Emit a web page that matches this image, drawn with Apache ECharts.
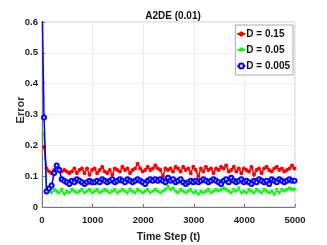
<!DOCTYPE html>
<html><head><meta charset="utf-8">
<script src="https://cdn.jsdelivr.net/npm/echarts@6/dist/echarts.min.js"></script>
<style>html,body{margin:0;padding:0;background:#fff}#c{width:327px;height:245px}</style>
</head><body><div id="c"></div>
<script>
const titleText = 'A2DE (0.01)';
const xAxisTitle = 'Time Step (t)';
const yAxisTitle = 'Error';
const yTicks = [0, 0.1, 0.2, 0.3, 0.4, 0.5, 0.6];
const seriesNames = ['D = 0.15', 'D = 0.05', 'D = 0.005'];
const timeSteps = [40,90,140,190,240,290,340,390,440,490,540,590,640,690,740,790,840,890,940,990,
1040,1090,1140,1190,1240,1290,1340,1390,1440,1490,1540,1590,1640,1690,1740,1790,1840,1890,1940,1990,
2040,2090,2140,2190,2240,2290,2340,2390,2440,2490,2540,2590,2640,2690,2740,2790,2840,2890,2940,2990,
3040,3090,3140,3190,3240,3290,3340,3390,3440,3490,3540,3590,3640,3690,3740,3790,3840,3890,3940,3990,
4040,4090,4140,4190,4240,4290,4340,4390,4440,4490,4540,4590,4640,4690,4740,4790,4840,4890,4940,4990];
const redVals = [0.195,0.125,0.115,0.11,0.12,0.13,0.125,0.115,0.12,0.115,0.11,0.115,0.125,0.11,0.12,0.125,0.11,0.125,0.105,0.12,
0.125,0.11,0.12,0.13,0.115,0.11,0.12,0.105,0.125,0.12,0.115,0.13,0.12,0.125,0.11,0.12,0.125,0.14,0.125,0.115,
0.12,0.13,0.12,0.125,0.135,0.125,0.12,0.1,0.125,0.12,0.125,0.115,0.13,0.125,0.115,0.13,0.12,0.125,0.11,0.13,
0.12,0.1,0.125,0.115,0.13,0.12,0.125,0.11,0.125,0.12,0.13,0.125,0.135,0.115,0.12,0.13,0.115,0.125,0.11,0.125,
0.12,0.115,0.13,0.105,0.12,0.125,0.11,0.125,0.13,0.12,0.115,0.125,0.13,0.12,0.125,0.115,0.12,0.125,0.135,0.125];
const greenVals = [0.235,0.055,0.05,0.045,0.055,0.05,0.045,0.055,0.04,0.05,0.045,0.055,0.05,0.045,0.05,0.055,0.045,0.05,0.055,0.045,
0.05,0.055,0.045,0.05,0.055,0.05,0.045,0.05,0.055,0.045,0.05,0.055,0.05,0.045,0.055,0.05,0.045,0.055,0.05,0.045,
0.05,0.055,0.045,0.05,0.055,0.05,0.045,0.05,0.055,0.065,0.055,0.06,0.05,0.045,0.055,0.05,0.045,0.05,0.055,0.045,
0.05,0.04,0.05,0.045,0.05,0.055,0.045,0.05,0.055,0.05,0.055,0.06,0.055,0.05,0.045,0.055,0.05,0.06,0.045,0.05,
0.045,0.055,0.05,0.045,0.055,0.05,0.045,0.055,0.05,0.045,0.05,0.04,0.055,0.045,0.055,0.05,0.055,0.06,0.055,0.055];
const blueStart = [0, 0.7];
const blueVals = [0.29,0.05,0.06,0.07,0.11,0.135,0.12,0.09,0.085,0.08,0.075,0.085,0.08,0.09,0.085,0.08,0.075,0.08,0.085,0.08,
0.08,0.085,0.08,0.09,0.085,0.08,0.085,0.09,0.08,0.085,0.09,0.085,0.08,0.09,0.085,0.08,0.085,0.09,0.085,0.08,
0.075,0.085,0.09,0.085,0.09,0.085,0.09,0.085,0.08,0.095,0.085,0.09,0.08,0.085,0.09,0.08,0.075,0.08,0.085,0.08,
0.085,0.08,0.085,0.09,0.085,0.08,0.085,0.09,0.085,0.08,0.075,0.085,0.09,0.08,0.095,0.085,0.08,0.085,0.09,0.08,
0.085,0.08,0.075,0.085,0.08,0.09,0.085,0.08,0.085,0.075,0.09,0.085,0.08,0.09,0.085,0.08,0.085,0.09,0.085,0.085];

const pair = (vals) => vals.map((v, i) => [timeSteps[i], v]);
const redData = pair(redVals);
const greenData = pair(greenVals);
const blueData = [blueStart].concat(pair(blueVals));

const ff = "'Liberation Sans', Arial, Helvetica, sans-serif";
const star = 'path://M5,0 L5,10 M0,5 L10,5 M1.5,1.5 L8.5,8.5 M8.5,1.5 L1.5,8.5';
const fmtY = v => (Number(v) === 0 ? '0' : Number(v).toFixed(1));

const errorText = {
  type: 'text', x: 21, y: 110, rotation: Math.PI / 2, silent: true, z: 100,
  style: {text: yAxisTitle, fontFamily: ff, fontWeight: 'bold', fontSize: 11, fill: '#333',
    align: 'center', verticalAlign: 'middle'}
};

const chart = echarts.init(document.getElementById('c'), null, {renderer: 'canvas'});
chart.setOption({
  animation: false,
  backgroundColor: '#fff',
  title: {text: titleText, left: 168, textAlign: 'center', top: 6,
    textStyle: {fontFamily: ff, fontWeight: 'bold', fontSize: 10, color: '#111'}},
  graphic: [errorText],
  grid: {left: 42, right: 32, top: 22, bottom: 38,
    outerBounds: {left: -200, right: -200, top: -200, bottom: -200},
    show: true, borderColor: '#c8c8c8', borderWidth: 1},
  legend: {
    orient: 'vertical', right: 34, top: 25, itemWidth: 8, itemHeight: 6, itemGap: 6,
    padding: [4, 3, 4, 1], backgroundColor: '#fff', borderColor: '#aaa', borderWidth: 1,
    textStyle: {fontFamily: ff, fontWeight: 'bold', fontSize: 10, color: '#111', padding: [0,0,0,-4]},
    data: seriesNames
  },
  xAxis: {
    type: 'value', min: 0, max: 5000, interval: 1000,
    name: xAxisTitle, nameLocation: 'middle', nameGap: 25, nameMoveOverlap: false,
    nameTextStyle: {fontFamily: ff, fontSize: 10.5, color: '#222', fontWeight: 'bold'},
    axisLine: {show: true, lineStyle: {color: '#777', width: 1}},
    axisTick: {show: true, inside: true, length: 3, lineStyle: {color: '#777'}},
    axisLabel: {fontFamily: ff, fontSize: 9.5, fontWeight: 'bold', color: '#222', margin: 8,
      formatter: v => String(v)},
    splitLine: {show: true, lineStyle: {color: '#ececec'}}
  },
  yAxis: {
    type: 'value', min: 0, max: 0.6, interval: 0.1,
    axisLine: {show: true, lineStyle: {color: '#777', width: 1}},
    axisTick: {show: true, inside: true, length: 3, lineStyle: {color: '#777'}},
    axisLabel: {show: false},
    splitLine: {show: true, lineStyle: {color: '#ececec'}}
  },
  series: [
    {name: seriesNames[0], type: 'line', data: redData, color: '#ff0000',
      lineStyle: {width: 1.5}, symbol: star, symbolSize: 4, showAllSymbol: true,
      itemStyle: {color: '#ff0000', borderColor: '#ff0000', borderWidth: 1.2}, z: 3},
    {name: seriesNames[1], type: 'line', data: greenData, color: '#00ff00',
      lineStyle: {width: 1.5}, symbol: 'triangle', symbolRotate: 180, symbolSize: 4, showAllSymbol: true,
      itemStyle: {color: '#00ff00'}, z: 2},
    {name: seriesNames[2], type: 'line', data: blueData, color: '#0000ff',
      lineStyle: {width: 1.5}, symbol: 'emptyCircle', symbolSize: 4, showAllSymbol: true,
      itemStyle: {color: '#0000ff', borderColor: '#0000ff', borderWidth: 1}, z: 4}
  ]
});

// y tick labels placed through the y axis scale
const axisX = chart.convertToPixel({xAxisIndex: 0}, 0);
const yLabelGraphics = yTicks.map(v => ({
  type: 'text', silent: true, z: 100,
  x: axisX - 4,
  y: chart.convertToPixel({yAxisIndex: 0}, v),
  style: {text: fmtY(v), fontFamily: ff, fontWeight: 'bold', fontSize: 9.5, fill: '#222',
    align: 'right', verticalAlign: 'middle'}
}));
chart.setOption({graphic: [errorText].concat(yLabelGraphics)});
</script></body></html>
